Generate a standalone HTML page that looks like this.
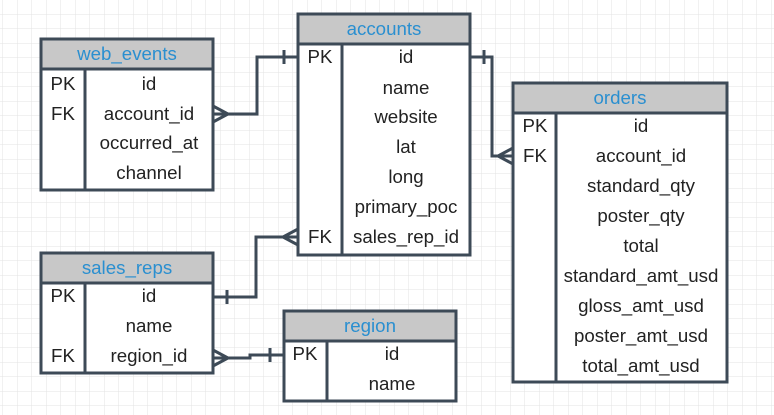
<!DOCTYPE html>
<html><head><meta charset="utf-8"><style>
html,body{margin:0;padding:0;background:#fff;}
svg{display:block;font-family:"Liberation Sans",sans-serif;}
</style></head><body>
<svg width="774" height="415" viewBox="0 0 774 415" xmlns="http://www.w3.org/2000/svg">
<defs>
<pattern id="g" width="14.5" height="14.5" patternUnits="userSpaceOnUse" x="3" y="0">
<path d="M14.5 0V14.5M0 14.5H14.5" stroke="#e3e3e3" stroke-width="1" fill="none"/>
</pattern>
</defs>
<rect width="774" height="415" fill="url(#g)"/>
<g stroke="#3d4a57" stroke-width="3" fill="none">
<path d="M213 114H257V57H298"/><path d="M284 50V64"/>
<path d="M213 106L228 114L213 122"/>
<path d="M470 57H492V156H513"/><path d="M484 50V64"/>
<path d="M513 148L498 156L513 164"/>
<path d="M298 237H256V297H213"/><path d="M227 290V304"/>
<path d="M298 229L283 237L298 245"/>
<path d="M213 358H250V355H284"/><path d="M270 348V362"/>
<path d="M213 350L228 358L213 366"/>
</g>
<g font-size="18.7" text-anchor="middle" fill="#222">
<rect x="41" y="39" width="172" height="151" fill="#fff" stroke="#3d4a57" stroke-width="3"/>
<rect x="41" y="39" width="172" height="30" fill="#c8c8c8" stroke="#3d4a57" stroke-width="3"/>
<line x1="85" y1="69" x2="85" y2="190" stroke="#3d4a57" stroke-width="3"/>
<text x="127" y="60" fill="#2a8fd0">web_events</text>
<text x="63" y="90">PK</text><text x="63" y="120">FK</text>
<text x="149" y="90">id</text><text x="149" y="120">account_id</text><text x="149" y="149">occurred_at</text><text x="149" y="179">channel</text>
<rect x="298" y="14" width="172" height="241" fill="#fff" stroke="#3d4a57" stroke-width="3"/>
<rect x="298" y="14" width="172" height="30" fill="#c8c8c8" stroke="#3d4a57" stroke-width="3"/>
<line x1="342" y1="44" x2="342" y2="255" stroke="#3d4a57" stroke-width="3"/>
<text x="384" y="35" fill="#2a8fd0">accounts</text>
<text x="320" y="63">PK</text><text x="320" y="243">FK</text>
<text x="406" y="63">id</text><text x="406" y="94">name</text><text x="406" y="123">website</text><text x="406" y="153">lat</text><text x="406" y="183">long</text><text x="406" y="213">primary_poc</text><text x="406" y="243">sales_rep_id</text>
<rect x="513" y="83" width="214" height="299" fill="#fff" stroke="#3d4a57" stroke-width="3"/>
<rect x="513" y="83" width="214" height="30" fill="#c8c8c8" stroke="#3d4a57" stroke-width="3"/>
<line x1="556" y1="113" x2="556" y2="382" stroke="#3d4a57" stroke-width="3"/>
<text x="620" y="104" fill="#2a8fd0">orders</text>
<text x="535" y="132">PK</text><text x="535" y="162">FK</text>
<text x="641" y="132">id</text><text x="641" y="162">account_id</text><text x="641" y="192">standard_qty</text><text x="641" y="222">poster_qty</text><text x="641" y="252">total</text><text x="641" y="282">standard_amt_usd</text><text x="641" y="312">gloss_amt_usd</text><text x="641" y="342">poster_amt_usd</text><text x="641" y="372">total_amt_usd</text>
<rect x="41" y="253" width="172" height="120" fill="#fff" stroke="#3d4a57" stroke-width="3"/>
<rect x="41" y="253" width="172" height="30" fill="#c8c8c8" stroke="#3d4a57" stroke-width="3"/>
<line x1="85" y1="283" x2="85" y2="373" stroke="#3d4a57" stroke-width="3"/>
<text x="127" y="274" fill="#2a8fd0">sales_reps</text>
<text x="63" y="302">PK</text><text x="63" y="362">FK</text>
<text x="149" y="302">id</text><text x="149" y="332">name</text><text x="149" y="362">region_id</text>
<rect x="284" y="311" width="172" height="90" fill="#fff" stroke="#3d4a57" stroke-width="3"/>
<rect x="284" y="311" width="172" height="30" fill="#c8c8c8" stroke="#3d4a57" stroke-width="3"/>
<line x1="327" y1="341" x2="327" y2="401" stroke="#3d4a57" stroke-width="3"/>
<text x="370" y="332" fill="#2a8fd0">region</text>
<text x="305" y="360">PK</text>
<text x="392" y="360">id</text><text x="392" y="390">name</text>
</g>
</svg>
</body></html>
